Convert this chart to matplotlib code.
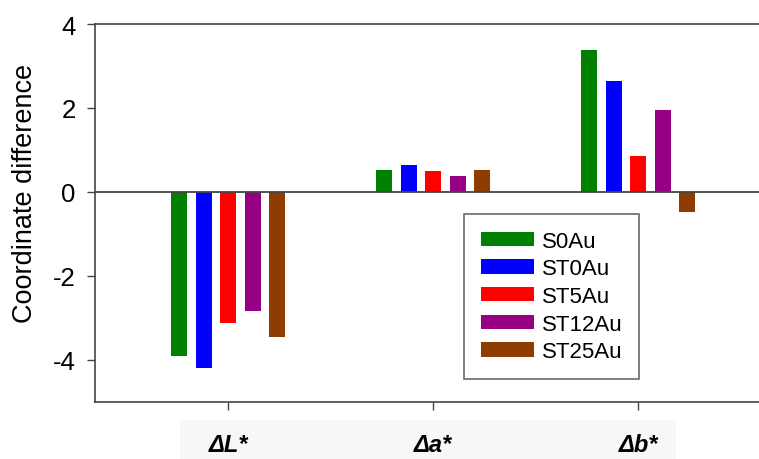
#!/usr/bin/env python3

import matplotlib
matplotlib.use('Agg')
import matplotlib.pyplot as plt
import numpy as np
from matplotlib.patches import Rectangle

plt.rcParams['font.family'] = ['Liberation Sans', 'DejaVu Sans']
plt.rcParams['axes.unicode_minus'] = False

groups = ['ΔL*', 'Δa*', 'Δb*']
series = ['S0Au', 'ST0Au', 'ST5Au', 'ST12Au', 'ST25Au']
colors = ['#008000', '#0000ff', '#ff0000', '#960082', '#8f3c00']

s0au   = [-3.92, 0.52, 3.38]
st0au  = [-4.21, 0.65, 2.63]
st5au  = [-3.14, 0.49, 0.85]
st12au = [-2.85, 0.37, 1.94]
st25au = [-3.47, 0.51, -0.49]
values = [s0au, st0au, st5au, st12au, st25au]

fig = plt.figure(figsize=(7.59, 4.60), dpi=100)
ax = fig.add_axes([95 / 759, 1 - 402.5 / 460, 1 - 95 / 759, (402.5 - 25) / 460])

x = np.arange(len(groups))
pitch = 0.1195
width = 0.078
for i, (name, vals, c) in enumerate(zip(series, values, colors)):
    ax.bar(x + (i - 2) * pitch, vals, width, color=c, label=name, zorder=2)

ax.axhline(0, color='#444444', lw=1.3, zorder=3)

ax.set_xlim(-0.650, 2.589)
ax.set_ylim(-5, 4)
ax.set_yticks([-4, -2, 0, 2, 4])
ax.set_xticks(x)
ax.set_xticklabels(groups, fontsize=17, fontweight='bold', fontstyle='italic')
ax.tick_params(axis='both', direction='out', length=6, width=1, color='#444444')
ax.tick_params(axis='y', labelsize=18.5, pad=8)
ax.tick_params(axis='x', pad=17)
ax.set_ylabel('Coordinate difference', fontsize=19.5)
ax.yaxis.set_label_coords(-0.086, 0.555)

for side in ['left', 'bottom', 'top']:
    ax.spines[side].set_color('#444444')
    ax.spines[side].set_linewidth(1.2)
ax.spines['right'].set_visible(False)

# faint box behind the category labels
fig.patches.append(Rectangle((180 / 759, 0), (676 - 180) / 759, 39 / 460,
                             transform=fig.transFigure, facecolor='#f7f7f7',
                             edgecolor='none', zorder=-1))

leg = ax.legend(loc='upper left', bbox_to_anchor=(464 / 759, 1 - 215 / 460),
                bbox_transform=fig.transFigure, borderaxespad=0,
                fontsize=16, frameon=True, fancybox=False, shadow=False,
                handlelength=2.4, handleheight=0.63, handletextpad=0.35,
                labelspacing=0.3, borderpad=0.75)
leg.get_frame().set_edgecolor('#444444')
leg.get_frame().set_linewidth(1.2)

fig.savefig('out.png', dpi=100)
